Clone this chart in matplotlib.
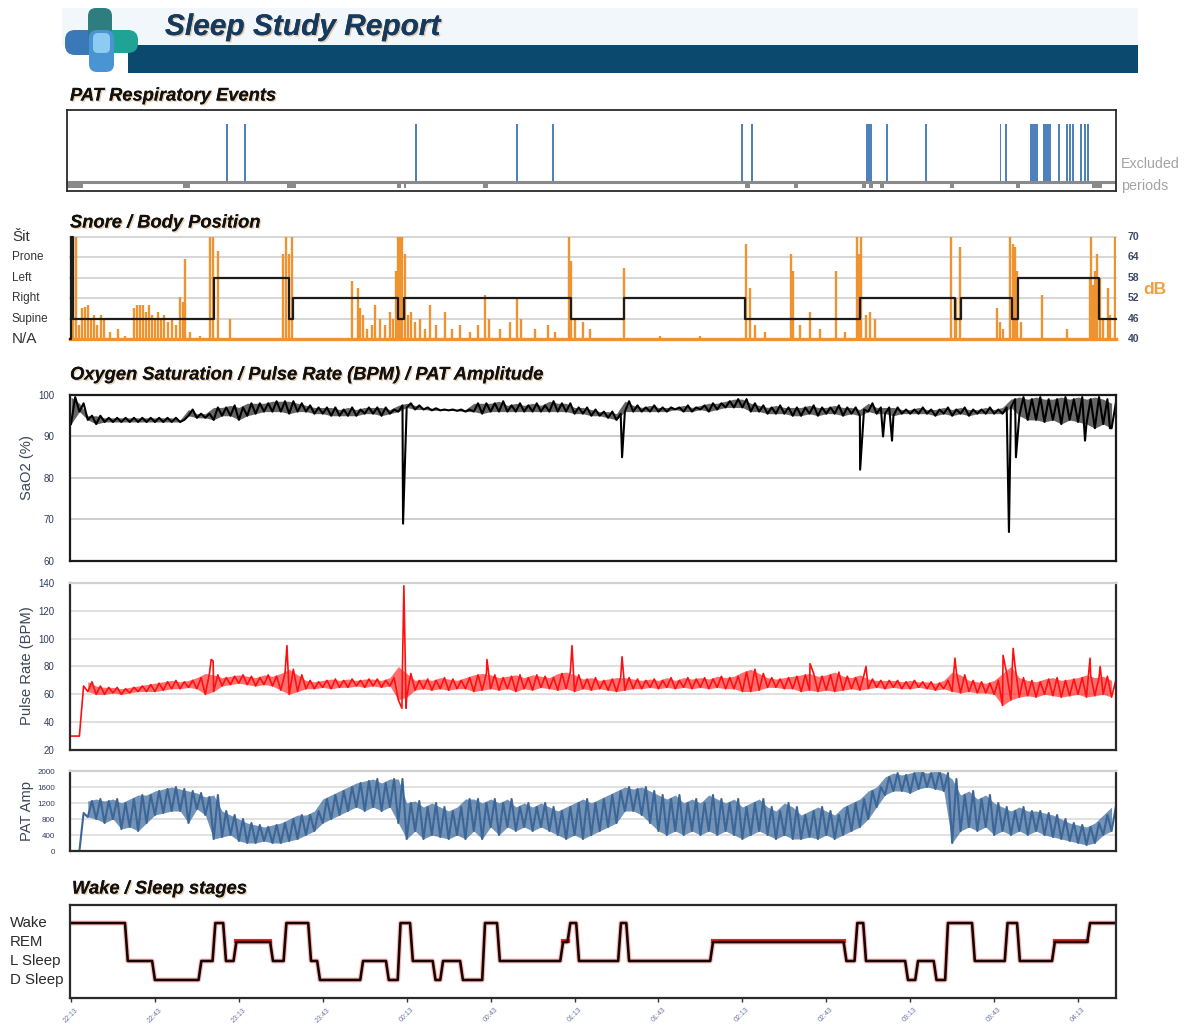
import numpy as np
import matplotlib
matplotlib.use("Agg")
import matplotlib.pyplot as plt
from matplotlib.patches import Rectangle, FancyBboxPatch
import matplotlib.patheffects as pe

plt.rcParams['font.family'] = ['Liberation Sans', 'DejaVu Sans']

# ---------------- data (time in minutes after 22:13) ----------------
tick_minutes = [0, 30, 60, 90, 120, 150, 180, 210, 240, 270, 300, 330, 360]
tick_labels = ["22:13", "22:43", "23:13", "23:43", "00:13", "00:43", "01:13",
               "01:43", "02:13", "02:43", "03:13", "03:43", "04:13"]
record_end = 373.6

# PAT respiratory events
event_start = [55.4, 61.8, 123.0, 159.1, 172.0, 239.5, 243.1, 284.2, 291.4, 305.3,
               332.0, 333.9, 343.0, 347.5, 352.9, 355.7, 356.8, 357.9, 360.7, 362.1, 363.2]
event_dur = [0.8, 0.8, 0.8, 0.8, 0.8, 0.8, 0.8, 2.1, 0.6, 0.8,
             0.6, 0.6, 2.7, 3.0, 0.8, 0.8, 0.6, 0.6, 0.6, 0.6, 0.8]

# excluded periods
excluded_start = [-1.4, 40.0, 77.2, 116.7, 118.9, 147.3, 241.0, 258.5, 282.8, 285.2,
                  289.2, 314.2, 337.8, 365.0]
excluded_end = [4.3, 42.5, 80.4, 117.9, 119.8, 148.9, 242.7, 259.9, 284.2, 286.7,
                290.5, 315.7, 339.3, 368.6]

# snore level peaks (dB)
snore_t = [0.0, 0.7, 1.8, 2.9, 3.9, 5.0, 6.1, 7.2, 8.2, 9.3,
           10.7, 11.8, 13.9, 16.8, 19.3, 22.5, 23.6, 24.7, 25.7, 26.8,
           27.9, 29.0, 30.0, 31.1, 32.2, 33.2, 34.7, 36.1, 37.5, 39.0,
           40.0, 40.8, 42.5, 46.1, 49.7, 50.8, 52.6, 56.8, 75.8, 76.9,
           77.9, 79.0, 100.5, 102.6, 103.3, 104.4, 105.8, 107.6, 108.7, 110.5,
           112.3, 114.0, 115.1, 116.2, 116.9, 117.6, 118.3, 119.4, 120.5, 121.6,
           123.0, 124.8, 126.6, 128.3, 130.5, 133.7, 136.2, 139.1, 142.6, 145.5,
           148.0, 149.4, 153.4, 156.9, 159.4, 160.9, 165.9, 170.5, 173.0, 178.0,
           178.8, 180.2, 183.0, 185.5, 197.7, 210.6, 224.9, 241.3, 242.7, 244.5,
           248.1, 257.4, 258.1, 260.6, 264.2, 267.8, 273.5, 276.7, 281.0, 281.7,
           282.4, 284.2, 285.6, 287.4, 314.6, 316.0, 316.4, 317.8, 331.0, 332.1,
           333.2, 335.7, 336.8, 337.5, 338.2, 339.6, 347.1, 356.1, 364.3, 364.7,
           365.4, 366.1, 366.8, 367.9, 369.0, 370.7, 371.4, 373.2]
snore_db = [70, 70, 70, 44, 49, 49.5, 50, 46, 47, 44,
            47, 46, 42, 43, 41, 49, 50, 50, 50, 48,
            50, 47, 46, 48, 46, 47, 45, 46, 44, 52.5,
            51, 63.5, 42, 41, 70, 70, 66, 46, 65, 70,
            65, 70, 57, 55, 49, 47, 43, 44, 50, 46,
            44, 48, 46, 60, 70, 70, 70, 65, 47, 48,
            45, 46, 43, 50, 44, 48, 43, 44, 42, 44,
            53, 46, 43, 45, 52, 46, 43, 44, 42, 70,
            63, 46, 45, 43, 61, 41, 41, 68, 55, 44,
            42, 65, 60, 44, 48, 43, 60, 42, 70, 65,
            70, 47, 48, 46, 70, 52, 52, 67, 49, 45,
            43, 70, 68, 67, 60, 45, 53, 43, 58, 70,
            56, 60, 65, 58, 46, 55, 47, 70]

# body position changes
position_t = [-0.4, 0.0, 0.7, 51.1, 77.9, 79.4, 116.9, 119.0, 178.8, 197.7,
              241.0, 282.1, 316.0, 318.2, 336.4, 338.5, 367.5]
position = ['N/A', 'Sit', 'Supine', 'Left', 'Supine', 'Right', 'Supine', 'Right', 'Supine', 'Right',
            'Supine', 'Right', 'Supine', 'Right', 'Supine', 'Left', 'Supine']
position_names = ['N/A', 'Supine', 'Right', 'Left', 'Prone', 'Sit']
db_ticks = [40, 46, 52, 58, 64, 70]

# oximetry / pulse / PAT: per-3-minute low and high of the trace
sample_step = 3.0
sao2_lo = [93, 96, 94, 93, 93.5, 93.5, 93.5, 93.5, 93.5, 93.5,
           93.5, 93.5, 93.5, 93.5, 95, 94.5, 94.5, 94, 95, 95,
           94, 95, 95.5, 96, 96, 96, 95.5, 96, 96, 95.5,
           95.5, 95, 95, 95, 95, 95.5, 95.5, 95, 95.5, 96,
           97, 96.5, 96.5, 96.3, 96.3, 96.3, 96.2, 96, 96, 95.5,
           96, 96, 96, 96, 96, 96, 96, 96, 96, 96,
           95.5, 95.5, 95, 95, 94.5, 94, 96, 96, 96, 96,
           96, 96, 96.5, 96, 96, 96.5, 96, 96.5, 97, 97,
           97, 96, 96, 95.5, 95.5, 95.5, 95, 95, 95.5, 95,
           95.5, 95.5, 95, 95.5, 95, 96, 95.5, 95.5, 95, 95.5,
           95.5, 95.5, 95.5, 95, 95.5, 95, 95.5, 95, 95.5, 95.5,
           95.5, 95.5, 97, 95, 94, 94, 93.5, 94, 93, 94,
           93.5, 93, 92, 93, 92]
sao2_hi = [99.5, 98, 95, 95, 94.5, 94.5, 94.5, 94.5, 94.5, 94.5,
           94.5, 94.5, 94.5, 94, 96.5, 95.5, 95.5, 97, 97, 97.5,
           97, 98, 98, 98, 98.5, 98.5, 98.5, 98, 97.5, 97,
           97, 97, 96.5, 97, 96.5, 97, 97, 97, 96.5, 97.5,
           98, 97.5, 97, 96.8, 96.5, 96.5, 96.5, 96.5, 98, 98,
           98, 98.5, 97.5, 98, 97.5, 98, 97.5, 98.5, 98, 98,
           97, 97, 96.5, 96, 96, 95.5, 98.5, 97.5, 97, 97.5,
           97, 97, 97, 97.5, 97, 97.5, 98, 98, 98.5, 99,
           99, 98, 97.5, 97, 97.5, 97, 97, 97, 97.5, 97,
           97, 97.5, 97, 97, 96.5, 98, 97, 97, 97, 96.5,
           96.5, 97, 96.5, 96.5, 97, 96.5, 97, 96.5, 96.5, 97,
           96.5, 97, 99, 99.5, 99, 99.5, 99, 99, 99.5, 99,
           99.5, 99, 99.5, 99, 98]
sao2_dip_t = [118.7, 197.0, 282.1, 290.3, 293.5, 335.3, 337.8, 362.5, 371.4]
sao2_dip = [69, 85, 82, 90, 89, 67, 85, 89, 92]

pulse_lo = [30, 30, 62, 60, 60, 61, 60, 61, 62, 62,
            62, 63, 64, 64, 65, 64, 60, 62, 66, 67,
            68, 67, 66, 67, 66, 63, 60, 62, 64, 64,
            65, 64, 65, 65, 66, 65, 66, 65, 66, 56,
            58, 63, 64, 63, 64, 63, 64, 64, 62, 63,
            64, 63, 64, 62, 64, 63, 65, 64, 63, 64,
            62, 64, 63, 64, 63, 62, 63, 64, 64, 65,
            64, 65, 64, 65, 64, 65, 64, 65, 64, 64,
            62, 62, 63, 65, 65, 64, 64, 62, 63, 62,
            63, 62, 63, 64, 63, 64, 65, 64, 65, 64,
            64, 65, 64, 63, 64, 62, 61, 62, 61, 61,
            60, 52, 56, 58, 59, 58, 60, 59, 58, 59,
            60, 58, 59, 60, 58]
pulse_hi = [30, 66, 69, 66, 65, 65, 64, 65, 66, 67,
            68, 69, 70, 69, 70, 72, 75, 74, 72, 73,
            74, 73, 72, 74, 73, 75, 78, 74, 70, 69,
            70, 71, 70, 71, 70, 71, 71, 70, 72, 80,
            75, 70, 71, 70, 72, 71, 70, 72, 74, 75,
            74, 72, 73, 74, 72, 74, 73, 72, 75, 76,
            74, 71, 72, 70, 71, 72, 72, 71, 70, 71,
            70, 72, 70, 72, 71, 72, 71, 73, 72, 73,
            76, 78, 75, 72, 71, 72, 73, 74, 75, 73,
            74, 76, 73, 72, 74, 71, 70, 70, 70, 69,
            70, 69, 69, 68, 70, 76, 74, 70, 69, 68,
            70, 75, 80, 72, 70, 69, 71, 72, 70, 71,
            72, 74, 72, 73, 70]
pulse_peak_t = [50.1, 50.8, 77.2, 118.3, 119.0, 119.8, 148.7, 179.1, 197.0, 264.2,
                284.2, 316.0, 333.2, 336.8, 364.3, 367.9]
pulse_peak = [85, 84, 95, 50, 138, 50, 85, 95, 87, 82,
              80, 86, 88, 93, 86, 80]

pat_lo = [0, 0, 850, 800, 700, 800, 550, 600, 500, 700,
          900, 950, 1000, 1000, 700, 1050, 900, 300, 350, 400,
          250, 200, 200, 250, 200, 200, 250, 300, 400, 500,
          700, 800, 900, 1000, 1100, 1000, 1100, 1000, 1100, 700,
          300, 500, 300, 400, 350, 300, 400, 300, 500, 300,
          600, 400, 600, 500, 600, 500, 600, 500, 400, 300,
          400, 300, 400, 500, 600, 700, 1000, 1000, 900, 700,
          500, 400, 500, 400, 500, 400, 500, 400, 500, 400,
          300, 400, 500, 400, 300, 400, 300, 300, 350, 300,
          400, 300, 400, 500, 600, 800, 1100, 1400, 1500, 1500,
          1450, 1550, 1600, 1550, 1500, 200, 500, 600, 500, 600,
          400, 500, 400, 500, 400, 500, 400, 350, 300, 250,
          200, 150, 200, 400, 500]
pat_hi = [0, 950, 1250, 1300, 1250, 1300, 1200, 1300, 1400, 1400,
          1500, 1550, 1600, 1550, 1500, 1450, 1350, 1400, 1000, 900,
          800, 700, 650, 600, 650, 700, 800, 900, 900, 1000,
          1300, 1400, 1500, 1600, 1700, 1750, 1800, 1700, 1800, 1800,
          1200, 1250, 1100, 1200, 1100, 1000, 1100, 1300, 1300, 1200,
          1300, 1200, 1300, 1100, 1200, 1100, 1200, 1100, 1000, 1100,
          1200, 1300, 1200, 1300, 1400, 1500, 1600, 1550, 1600, 1500,
          1400, 1300, 1400, 1200, 1300, 1200, 1400, 1300, 1200, 1300,
          1100, 1200, 1300, 1100, 1000, 1200, 1100, 900, 1000, 1100,
          1000, 900, 1100, 1200, 1300, 1500, 1600, 1850, 1950, 1900,
          1950, 2000, 1950, 2000, 1950, 1800, 1400, 1500, 1300, 1400,
          1200, 1100, 1000, 1100, 1000, 1000, 950, 900, 800, 700,
          650, 600, 700, 900, 1100]

# wake / sleep stage changes
stage_t = [0, 19.8, 29.5, 46.1, 51.1, 54.9, 58.6, 71.7, 76.5, 85.3,
           88.5, 103.9, 113.1, 117.3, 121.7, 129.8, 132.5, 139.6, 147.5, 152.8,
           175.4, 178.0, 181.1, 196.1, 199.0, 229.0, 276.7, 280.6, 283.7, 298.7,
           302.3, 308.9, 313.0, 322.6, 334.3, 338.7, 351.2, 363.8]
stage = ['Wake', 'L Sleep', 'D Sleep', 'L Sleep', 'Wake', 'L Sleep', 'REM', 'L Sleep', 'Wake', 'L Sleep',
         'D Sleep', 'L Sleep', 'D Sleep', 'Wake', 'L Sleep', 'D Sleep', 'L Sleep', 'D Sleep', 'Wake', 'L Sleep',
         'REM', 'Wake', 'L Sleep', 'Wake', 'L Sleep', 'REM', 'L Sleep', 'Wake', 'L Sleep', 'D Sleep',
         'L Sleep', 'D Sleep', 'Wake', 'L Sleep', 'Wake', 'L Sleep', 'REM', 'Wake']
stage_names = ['D Sleep', 'L Sleep', 'REM', 'Wake']

# ---------------- helpers ----------------
W, H = 1195, 1034
fig = plt.figure(figsize=(W / 100, H / 100), dpi=100)
PX0, PX_PER_MIN = 71.0, 83.92 / 30.0


def panel(x0, y0, x1, y1):
    ax = fig.add_axes([x0 / W, 1 - y1 / H, (x1 - x0) / W, (y1 - y0) / H])
    ax.set_xlim((x0 - PX0) / PX_PER_MIN, (x1 - PX0) / PX_PER_MIN)
    ax.set_xticks([])
    return ax


def ftext(x, y, s, **kw):
    return fig.text(x / W, 1 - y / H, s, **kw)


def sample_times(n):
    return np.arange(n) * sample_step


def band_trace(lo, hi, peak_t=None, peak_v=None):
    n = len(lo)
    t = np.empty(2 * n)
    v = np.empty(2 * n)
    t[0::2] = sample_times(n)
    t[1::2] = sample_times(n) + sample_step / 2
    v[0::2] = lo
    v[1::2] = hi
    if peak_t is not None:
        t = np.concatenate([t, peak_t])
        v = np.concatenate([v, peak_v])
        order = np.argsort(t, kind='stable')
        t, v = t[order], v[order]
    return t, v


def draw_signal(ax, lo, hi, color, lw, band_alpha, peak_t=None, peak_v=None, fill_from=0):
    ts = sample_times(len(lo))
    ax.fill_between(ts[fill_from:], lo[fill_from:], hi[fill_from:], color=color,
                    alpha=band_alpha, lw=0)
    t, v = band_trace(lo, hi, peak_t, peak_v)
    ax.plot(t, v, color=color, lw=lw)


title_fx = [pe.withSimplePatchShadow(offset=(1, -1), shadow_rgbFace='#d08a3a', alpha=0.4), pe.Normal()]


def section_title(x, y, s):
    ftext(x, y, s, fontsize=13.2, fontweight='bold', fontstyle='italic', color='#111111',
          va='center', ha='left', path_effects=title_fx)


def frame(ax, color='#2a2a2a', lw=1.4, top=None, right=None):
    for name, sp in ax.spines.items():
        sp.set_color(color)
        sp.set_linewidth(lw)
    if top:
        ax.spines['top'].set_color(top)
    if right:
        ax.spines['right'].set_color(right)


def ylabel(y, s):
    ftext(27, y, s, fontsize=10.6, color='#3b4656', rotation=90, va='center', ha='center')


# ---------------- header ----------------
axh = fig.add_axes([0, 1 - 80 / H, 1, 80 / H])
axh.set_xlim(0, W)
axh.set_ylim(80, 0)
axh.axis('off')
axh.add_patch(Rectangle((62, 8), 1076, 37, color='#f1f7fa', lw=0))
axh.add_patch(Rectangle((128, 45), 1010, 28, color='#0b4a6e', lw=0))
axh.add_patch(FancyBboxPatch((65, 30), 36, 25, boxstyle='round,pad=0,rounding_size=10',
                             color='#3a78b8', lw=0))
axh.add_patch(FancyBboxPatch((100, 30), 38, 23, boxstyle='round,pad=0,rounding_size=10',
                             color='#1ea395', lw=0))
axh.add_patch(FancyBboxPatch((88, 8), 24, 34, boxstyle='round,pad=0,rounding_size=8',
                             color='#2e7e80', lw=0))
axh.add_patch(FancyBboxPatch((89, 30), 25, 42, boxstyle='round,pad=0,rounding_size=8',
                             color='#4a94d4', lw=0))
axh.add_patch(FancyBboxPatch((93, 33), 17, 20, boxstyle='round,pad=0,rounding_size=5',
                             color='#8ccbf2', lw=0))
axh.text(165, 27, 'Sleep Study Report', fontsize=21.5, fontweight='bold', fontstyle='italic',
         color='#163a5e', va='center', ha='left',
         path_effects=[pe.withSimplePatchShadow(offset=(1, -1), shadow_rgbFace='#c89050', alpha=0.45),
                       pe.Normal()])

# ---------------- PAT respiratory events ----------------
section_title(70, 96, 'PAT Respiratory Events')
axe = panel(67, 110, 1116, 191)
axe.set_ylim(0, 1)
axe.set_yticks([])
frame(axe, lw=1.3)
base = 9 / 81
axe.bar(event_start, 0.716, width=event_dur, bottom=base, align='edge', color='#4f81bd', lw=0)
axe.axhline(base, color='#8a8a8a', lw=2.2)
axe.bar(excluded_start, 0.074, width=np.subtract(excluded_end, excluded_start), bottom=0.037,
        align='edge', color='#8a8a8a', lw=0)
ftext(1121, 164, 'Excluded', fontsize=10.3, color='#a3a3a3', va='center')
ftext(1121, 186, 'periods', fontsize=10.3, color='#a3a3a3', va='center')

# ---------------- snore / body position ----------------
section_title(70, 223, 'Snore / Body Position')
axs = panel(70, 237, 1116, 339)
axs.set_ylim(40, 70)
axs.set_yticks([])
for sp in axs.spines.values():
    sp.set_visible(False)
for v in db_ticks:
    axs.axhline(v, color='#d6d6d6', lw=1.4, clip_on=False, zorder=0)
axs.axhline(40, color='#ef9330', lw=2.4, clip_on=False, zorder=1)
axs.vlines(snore_t, 40, snore_db, color='#ef9330', lw=1.7, zorder=2)
pos_db = [40 + 6 * position_names.index(p) for p in position] + [40 + 6 * position_names.index(position[-1])]
axs.plot(list(position_t) + [record_end], pos_db, drawstyle='steps-post', color='#1c1c1c',
         lw=1.6, zorder=3, clip_on=False)
for name, v in zip(position_names, db_ticks):
    y = 339 - (v - 40) * (102 / 30)
    big = name in ('Sit', 'N/A')
    ftext(12, y, 'Šit' if name == 'Sit' else name, fontsize=11 if big else 8.5,
          color='#333333', va='center', ha='left')
    ftext(1128, y, str(v), fontsize=7.5, fontweight='bold', color='#3d4866', va='center', ha='left')
ftext(1143, 289, 'dB', fontsize=12.5, fontweight='bold', color='#f0a040', va='center', ha='left')

# ---------------- oxygen saturation ----------------
section_title(70, 375, 'Oxygen Saturation / Pulse Rate (BPM) / PAT Amplitude')
axo = panel(70, 395, 1116, 561)
axo.set_ylim(60, 100)
axo.set_yticks([60, 70, 80, 90, 100])
axo.tick_params(axis='y', length=0, labelsize=7, labelcolor='#2e3c5c', pad=11)
frame(axo, color='#1a1a1a', lw=1.6)
for v in (70, 80, 90):
    axo.axhline(v, color='#c9c9c9', lw=1.3, zorder=0)
draw_signal(axo, sao2_lo, sao2_hi, '#000000', 1.5, 0.6, sao2_dip_t, sao2_dip)
ylabel(468, 'SaO2 (%)')

# ---------------- pulse rate ----------------
axp = panel(70, 583, 1116, 750)
axp.set_ylim(20, 140)
axp.set_yticks(range(20, 141, 20))
axp.tick_params(axis='y', length=0, labelsize=7, labelcolor='#2e3c5c', pad=11)
frame(axp, color='#2a2a2a', lw=1.6, top='#d0d0d0')
for g in range(40, 140, 20):
    axp.axhline(g, color='#dcdcdc', lw=1.3, zorder=0)
draw_signal(axp, pulse_lo, pulse_hi, '#ff1010', 1.2, 0.6, pulse_peak_t, pulse_peak, fill_from=2)
ylabel(666, 'Pulse Rate (BPM)')

# ---------------- PAT amplitude ----------------
axa = panel(70, 771, 1116, 851)
axa.set_ylim(0, 2000)
axa.set_yticks(range(0, 2001, 400))
axa.tick_params(axis='y', length=0, labelsize=5.8, labelcolor='#2e3c5c', pad=11)
frame(axa, color='#2a2a2a', lw=1.6, top='#d0d0d0')
for g in range(400, 2000, 400):
    axa.axhline(g, color='#dcdcdc', lw=1.2, zorder=0)
draw_signal(axa, pat_lo, pat_hi, '#3a6698', 1.5, 0.7, fill_from=2)
ylabel(811, 'PAT Amp')

# ---------------- wake / sleep stages ----------------
section_title(72, 889, 'Wake / Sleep stages')
axw = panel(70, 905, 1116, 998)
axw.set_ylim(-0.95, 3.95)
axw.set_yticks([])
frame(axw, color='#2a2a2a', lw=1.6)
for i, name in enumerate(stage_names):
    ftext(10, 980 - 19 * i, name, fontsize=10.8, color='#2a2a2a', va='center', ha='left')
ramp = 1.0
xs, ys = [], []
rem_segments = []
for i, (t0, s) in enumerate(zip(stage_t, stage)):
    lvl = stage_names.index(s)
    a = t0 + (ramp / 2 if i > 0 else 0)
    b = stage_t[i + 1] - ramp / 2 if i + 1 < len(stage_t) else record_end
    xs += [a, b]
    ys += [lvl, lvl]
    if s == 'REM':
        rem_segments.append((a, b, lvl))
axw.plot(xs, ys, color='#ff2a2a', lw=3.6, alpha=0.3, solid_capstyle='round')
for a, b, lvl in rem_segments:
    axw.plot([a, b], [lvl + 0.07, lvl + 0.07], color='#ff1a1a', lw=3.0)
axw.plot(xs, ys, color='#1a0505', lw=1.9)
axw.set_xticks(tick_minutes)
axw.set_xticklabels(tick_labels, rotation=45, fontsize=5, color='#6a78a0', ha='center', va='top')
axw.tick_params(axis='x', length=3, width=1, color='#333333', pad=3)

fig.savefig('out.png', dpi=100)
